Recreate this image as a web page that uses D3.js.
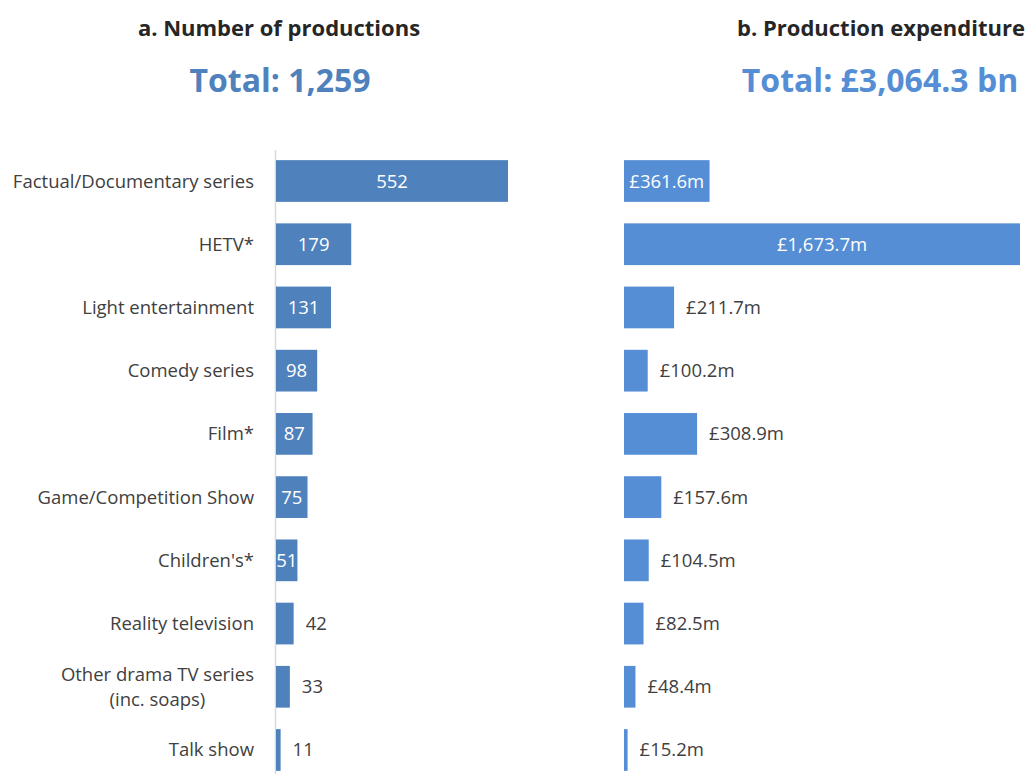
<!DOCTYPE html>
<html>
<head>
<meta charset="utf-8">
<script src="https://cdn.jsdelivr.net/npm/d3@7"></script>
<style>
  html, body { margin: 0; padding: 0; background: #fff; }
  svg { display: block; font-family: "Open Sans", sans-serif; }
</style>
</head>
<body>
<svg id="chart"></svg>
<script>
// data
const categories = [
  ["Factual/Documentary series"],
  ["HETV*"],
  ["Light entertainment"],
  ["Comedy series"],
  ["Film*"],
  ["Game/Competition Show"],
  ["Children's*"],
  ["Reality television"],
  ["Other drama TV series", "(inc. soaps)"],
  ["Talk show"]
];
const productions = [552, 179, 131, 98, 87, 75, 51, 42, 33, 11];
const expenditure = [361.6, 1673.7, 211.7, 100.2, 308.9, 157.6, 104.5, 82.5, 48.4, 15.2];
const expLabels = ["£361.6m", "£1,673.7m", "£211.7m", "£100.2m", "£308.9m", "£157.6m", "£104.5m", "£82.5m", "£48.4m", "£15.2m"];
const prodInside = [true, true, true, true, true, true, true, false, false, false];
const expInside = [true, true, false, false, false, false, false, false, false, false];

const width = 1027;
const height = 774;

const svg = d3.select("#chart")
  .attr("width", width)
  .attr("height", height);

const y = d3.scaleBand()
  .domain(d3.range(categories.length))
  .range([149.4, 781.6])
  .paddingInner(0.34)
  .paddingOuter(0.17);

const xA = d3.scaleLinear().domain([0, 552]).range([276, 508]);
const xB = d3.scaleLinear().domain([0, 1673.7]).range([624, 1020]);

const colA = "#4f81bd";
const colB = "#558ed5";
const textCol = "#404040";
const fs = 18.5;

// titles
svg.append("text")
  .attr("x", 279).attr("y", 36)
  .attr("text-anchor", "middle")
  .attr("font-size", 22).attr("font-weight", "bold")
  .attr("fill", "#262626")
  .text("a. Number of productions");

svg.append("text")
  .attr("x", 280).attr("y", 92)
  .attr("text-anchor", "middle")
  .attr("font-size", 32).attr("font-weight", "bold")
  .attr("fill", colA)
  .text("Total: 1,259");

svg.append("text")
  .attr("x", 881).attr("y", 36)
  .attr("text-anchor", "middle")
  .attr("font-size", 22).attr("font-weight", "bold")
  .attr("fill", "#262626")
  .text("b. Production expenditure");

svg.append("text")
  .attr("x", 880).attr("y", 92)
  .attr("text-anchor", "middle")
  .attr("font-size", 32).attr("font-weight", "bold")
  .attr("fill", colB)
  .text("Total: £3,064.3 bn");

// left axis line
svg.append("line")
  .attr("x1", 275.5).attr("x2", 275.5)
  .attr("y1", 150).attr("y2", height)
  .attr("stroke", "#d9d9d9")
  .attr("stroke-width", 1.5);

// category labels (multi-line labels are centred within their block)
const catG = svg.append("g");
categories.forEach((lines, i) => {
  const cy = y(i) + y.bandwidth() / 2;
  const t = catG.append("text")
    .attr("text-anchor", lines.length > 1 ? "middle" : "end")
    .attr("font-size", fs)
    .attr("fill", textCol);
  const spans = lines.map((ln, j) => t.append("tspan")
    .attr("x", 254)
    .attr("y", cy + 6.5 + (j - (lines.length - 1) / 2) * 25)
    .text(ln));
  if (lines.length > 1) {
    const w = d3.max(spans, s => s.node().getComputedTextLength());
    spans.forEach(s => s.attr("x", 254 - w / 2));
  }
});

// panel a bars
svg.append("g").selectAll("rect")
  .data(productions)
  .join("rect")
  .attr("x", xA(0))
  .attr("y", (d, i) => y(i))
  .attr("width", d => xA(d) - xA(0))
  .attr("height", y.bandwidth())
  .attr("fill", colA);

svg.append("g").selectAll("text")
  .data(productions)
  .join("text")
  .attr("x", (d, i) => prodInside[i] ? (xA(0) + xA(d)) / 2 : xA(d) + 12)
  .attr("y", (d, i) => y(i) + y.bandwidth() / 2 + 6.5)
  .attr("text-anchor", (d, i) => prodInside[i] ? "middle" : "start")
  .attr("font-size", fs)
  .attr("fill", (d, i) => prodInside[i] ? "#fff" : textCol)
  .text(d => d);

// panel b bars
svg.append("g").selectAll("rect")
  .data(expenditure)
  .join("rect")
  .attr("x", xB(0))
  .attr("y", (d, i) => y(i))
  .attr("width", d => xB(d) - xB(0))
  .attr("height", y.bandwidth())
  .attr("fill", colB);

svg.append("g").selectAll("text")
  .data(expenditure)
  .join("text")
  .attr("x", (d, i) => expInside[i] ? (xB(0) + xB(d)) / 2 : xB(d) + 12)
  .attr("y", (d, i) => y(i) + y.bandwidth() / 2 + 6.5)
  .attr("text-anchor", (d, i) => expInside[i] ? "middle" : "start")
  .attr("font-size", fs)
  .attr("fill", (d, i) => expInside[i] ? "#fff" : textCol)
  .text((d, i) => expLabels[i]);
</script>
</body>
</html>
